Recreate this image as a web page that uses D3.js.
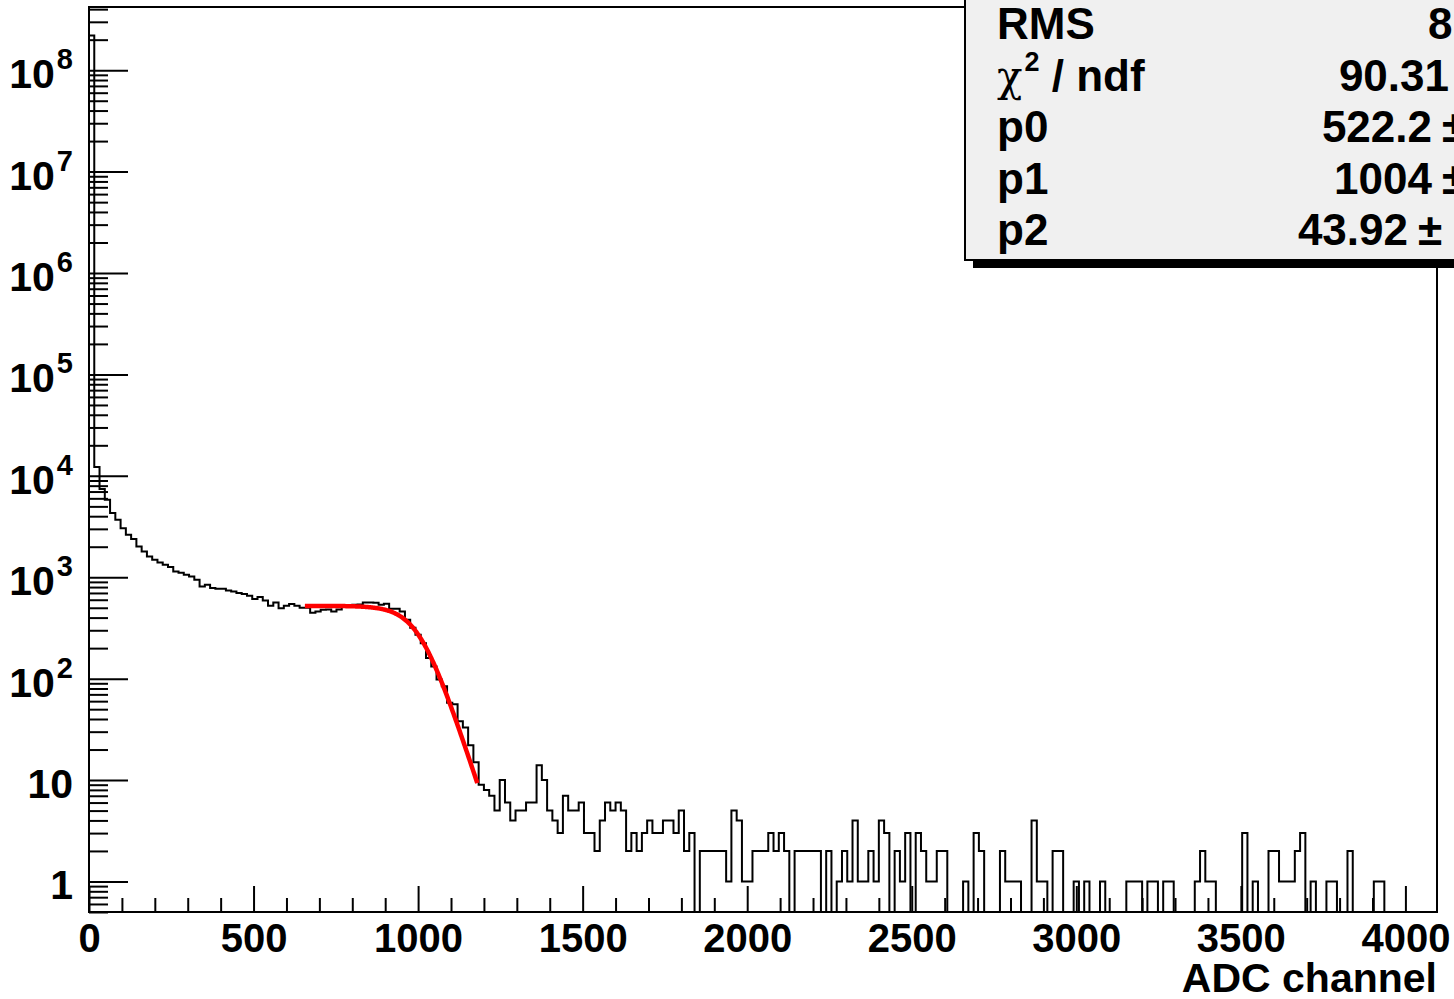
<!DOCTYPE html>
<html>
<head>
<meta charset="utf-8">
<script src="https://cdn.jsdelivr.net/npm/d3@7"></script>
<style>
    body { margin: 0; background: #fff; }
    svg { display: block; }
    text { font-family: "Liberation Sans", Arial, Helvetica, sans-serif; font-weight: bold; fill: #000; }
</style>
</head>
<body>
<svg id="chart" width="1454" height="999"></svg>
<script>
// Histogram: 256 bins of 16 ADC channels each;
const binWidth = 16;
const counts = [
    220000000, 12200, 7400, 5800, 4300, 3690, 3050, 2620, 2380, 2010, 1790, 1600, 1490, 1400, 1330, 1260,
    1140, 1110, 1060, 1020, 945, 812, 843, 785, 770, 770, 740, 725, 700, 685, 658, 610,
    640, 590, 523, 565, 495, 523, 545, 525, 500, 500, 447, 460, 478, 480, 460, 480,
    530, 530, 535, 540, 565, 565, 560, 535, 547, 490, 488, 460, 381, 317, 271, 224,
    160, 132, 98, 84, 58, 56, 38, 33, 22, 15, 9, 8, 7, 5, 10, 6,
    4, 5, 5, 6, 6, 14, 10, 5, 4, 3, 7, 5, 5, 6, 3, 3,
    2, 4, 6, 5, 6, 5, 2, 3, 2, 3, 4, 3, 3, 4, 4, 3,
    5, 2, 3, 0, 2, 2, 2, 2, 2, 1, 5, 4, 1, 1, 2, 2,
    2, 3, 2, 3, 2, 0, 2, 2, 2, 2, 2, 0, 2, 0, 1, 2,
    1, 4, 1, 1, 2, 1, 4, 3, 0, 2, 1, 3, 0, 3, 2, 1,
    1, 2, 2, 0, 0, 0, 1, 0, 3, 2, 0, 0, 0, 2, 1, 1,
    1, 0, 0, 4, 1, 1, 0, 2, 2, 0, 0, 1, 0, 1, 0, 0,
    1, 0, 0, 0, 0, 1, 1, 1, 0, 1, 1, 0, 1, 1, 0, 0,
    0, 0, 1, 2, 1, 1, 0, 0, 0, 0, 0, 3, 0, 1, 0, 0,
    2, 2, 1, 1, 1, 2, 3, 0, 1, 0, 0, 1, 1, 0, 0, 2,
    0, 0, 0, 0, 1, 1, 0, 0, 0, 0, 0, 0, 0, 0, 0, 0
];

// Axes;
const xDomain = [0, 4096];
const yDomain = [0.5, 4.2e8];
const xMajorTicks = [0, 500, 1000, 1500, 2000, 2500, 3000, 3500, 4000];
const yDecades = [0, 1, 2, 3, 4, 5, 6, 7, 8];
const xTitle = 'ADC channel';

// Fit (Fermi step) as printed in the stats box;
const fitParams = [522.2, 1004, 43.92];
const fitRange = [656, 1180];

// Stats box lines (box is cut off by the canvas edge);
const statNames = ['RMS', 'chi2', 'p0', 'p1', 'p2'];
const statValues = ['8', '90.31', '522.2', '1004', '43.92'];
const statHasError = [false, false, true, true, true];

const frame = { left: 89, right: 1437, top: 7, bottom: 912 };

const svg = d3.select('#chart');

const x = d3.scaleLinear().domain(xDomain).range([frame.left, frame.right]);
const y = d3.scaleLog().domain(yDomain).range([frame.bottom, frame.top]);

// Build step outline, empty bins sit on the bottom of the frame;
const pts = [[xDomain[0], yDomain[0]]];
counts.forEach((c, i) => {
    const v = Math.max(c, yDomain[0]);
    pts.push([i * binWidth, v]);
    pts.push([(i + 1) * binWidth, v]);
});
pts.push([counts.length * binWidth, yDomain[0]]);

const line = d3.line().x((d) => x(d[0])).y((d) => y(d[1]));

svg.append('path')
    .datum(pts)
    .attr('d', line)
    .attr('fill', 'none')
    .attr('stroke', '#000')
    .attr('stroke-width', 2);

// Fit curve;
const fermi = (t) => fitParams[0] / (1 + Math.exp((t - fitParams[1]) / fitParams[2]));
const fitPts = d3.range(fitRange[0], fitRange[1] + 0.1, 2).map((t) => [t, fermi(t)]);
svg.append('path')
    .datum(fitPts)
    .attr('d', line)
    .attr('fill', 'none')
    .attr('stroke', '#ff0000')
    .attr('stroke-width', 4.5);

// X axis ticks;
const xMinor = d3.range(0, xDomain[1] + 1, 100).filter((v) => v % 500 !== 0);
const gx = svg.append('g').attr('transform', `translate(0,${frame.bottom})`);
gx.append('g')
    .call(d3.axisBottom(x).tickValues(xMinor).tickSize(-14).tickSizeOuter(0).tickFormat(''))
    .call((g) => g.select('.domain').remove());
gx.append('g')
    .call(d3.axisBottom(x).tickValues(xMajorTicks).tickSize(-26).tickSizeOuter(0).tickPadding(12).tickFormat(d3.format('d')))
    .call((g) => g.select('.domain').remove())
    .call((g) => g.selectAll('text').attr('font-size', 40).attr('font-family', null));
gx.selectAll('line').attr('stroke', '#000').attr('stroke-width', 2);

// Y axis ticks;
const yMajor = yDecades.map((d) => Math.pow(10, d));
const yMinor = [];
for (let d = -1; d <= 8; d++) {
    for (let k = 2; k <= 9; k++) {
        const v = k * Math.pow(10, d);
        if (v >= yDomain[0] && v <= yDomain[1]) yMinor.push(v);
    }
}
const gy = svg.append('g').attr('transform', `translate(${frame.left},0)`);
gy.append('g')
    .call(d3.axisLeft(y).tickValues(yMinor).tickSize(-19).tickSizeOuter(0).tickFormat(''))
    .call((g) => g.select('.domain').remove());
gy.append('g')
    .call(d3.axisLeft(y).tickValues(yMajor).tickSize(-39).tickSizeOuter(0).tickFormat(''))
    .call((g) => g.select('.domain').remove());
gy.selectAll('line').attr('stroke', '#000').attr('stroke-width', 2);

// Y labels: 1, 10, 10^n;
yDecades.forEach((d) => {
    const t = svg.append('text')
        .attr('x', 73)
        .attr('y', y(Math.pow(10, d)) + 18)
        .attr('text-anchor', 'end')
        .attr('font-size', 41);
    if (d === 0) {
        t.text('1');
    } else if (d === 1) {
        t.text('10');
    } else {
        t.append('tspan').text('10');
        t.append('tspan').attr('dx', 2).attr('dy', -19).attr('font-size', 29).text(String(d));
    }
});

// X title;
svg.append('text')
    .attr('x', frame.right)
    .attr('y', 992)
    .attr('text-anchor', 'end')
    .attr('font-size', 41)
    .text(xTitle);

// Frame;
svg.append('rect')
    .attr('x', frame.left)
    .attr('y', frame.top)
    .attr('width', frame.right - frame.left)
    .attr('height', frame.bottom - frame.top)
    .attr('fill', 'none')
    .attr('stroke', '#000')
    .attr('stroke-width', 2);

// Stats box with shadow;
const box = { left: 965, bottom: 260, shadow: 8 };
svg.append('rect')
    .attr('x', box.left + box.shadow)
    .attr('y', -20)
    .attr('width', 700)
    .attr('height', box.bottom + box.shadow + 20)
    .attr('fill', '#000');
svg.append('rect')
    .attr('x', box.left)
    .attr('y', -20)
    .attr('width', 700)
    .attr('height', box.bottom + 20)
    .attr('fill', '#f0f0f0')
    .attr('stroke', '#000')
    .attr('stroke-width', 2);

const rowY = (i) => 39 + i * 51.6;
const pmX = [null, null, 1442, 1442, 1418];

statNames.forEach((name, i) => {
    const t = svg.append('text')
        .attr('x', 997)
        .attr('y', rowY(i))
        .attr('font-size', 44);
    if (name === 'chi2') {
        t.append('tspan').attr('font-family', '"DejaVu Serif", "Liberation Serif", serif').attr('font-weight', 'normal').attr('font-size', 42).text('χ');
        t.append('tspan').attr('dx', 2).attr('dy', -20).attr('font-size', 27).text('2');
        t.append('tspan').attr('dy', 20).text(' / ndf');
    } else {
        t.text(name);
    }

    if (i === 0) {
        svg.append('text').attr('x', 1428).attr('y', rowY(i)).attr('font-size', 44).text(statValues[i]);
    } else if (!statHasError[i]) {
        svg.append('text').attr('x', 1449).attr('y', rowY(i)).attr('text-anchor', 'end').attr('font-size', 44).text(statValues[i]);
    } else {
        svg.append('text').attr('x', pmX[i] - 10).attr('y', rowY(i)).attr('text-anchor', 'end').attr('font-size', 44).text(statValues[i]);
        svg.append('text').attr('x', pmX[i]).attr('y', rowY(i)).attr('font-size', 44).attr('font-weight', 'normal').text('±');
    }
});
</script>
</body>
</html>
